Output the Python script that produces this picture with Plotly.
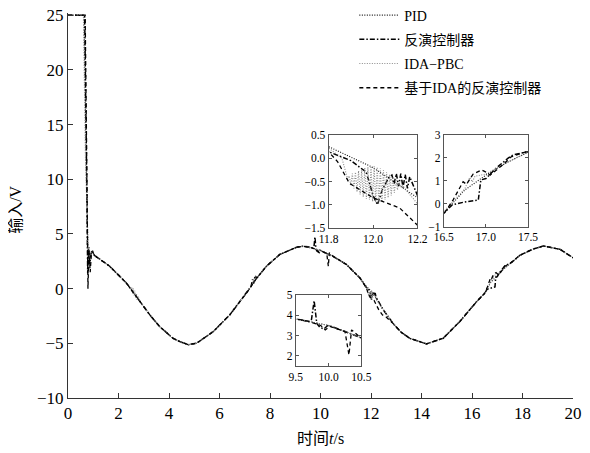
import plotly.graph_objects as go

# ---------------- data ----------------
t_base = [1.1, 1.65, 2.31, 2.71, 3.24, 3.63, 4.16, 4.43, 4.76, 5.09, 5.75, 6.41,
          7.07, 7.47, 7.86, 8.39, 9.05, 9.3, 9.5, 9.7, 10.0, 10.25, 10.5, 11.03,
          11.56, 11.8, 12.0, 12.2, 12.49, 12.88, 13.2, 13.54, 14.2, 14.86, 15.52,
          16.19, 16.5, 16.75, 17.0, 17.25, 17.5, 17.9, 18.4, 18.83, 19.49, 20.0]
u_base = [2.95, 2.05, 0.52, -0.7, -2.4, -3.47, -4.54, -4.85, -5.12, -5.0, -3.93, -2.39,
          -0.4, 0.95, 2.05, 3.13, 3.78, 3.88, 3.82, 3.7, 3.5, 3.2, 2.95, 2.2,
          0.98, 0.25, -0.2, -0.85, -1.95, -3.2, -4.0, -4.55, -5.05, -4.54, -3.0,
          -1.17, -0.4, 0.6, 1.25, 1.8, 2.25, 3.05, 3.6, 3.9, 3.59, 2.82]

# PID
pid_t0 = [0, 0.63, 0.71, 0.79, 0.84, 0.9, 0.97, 1.04]
pid_u0 = [25, 25, 13, 3.7, 2.9, 3.3, 3.4, 3.05]

# 反演控制器 (backstepping)
bs_t0 = [0, 0.66, 0.73, 0.78, 0.82, 0.86, 0.91, 0.97, 1.04]
bs_u0 = [25, 25, 12, 1.4, 3.8, 2.2, 3.2, 3.45, 3.05]
bs_t1 = [7.25, 7.31, 7.35, 7.41, 7.47]
bs_u1 = [0.2, 0.85, 0.45, 1.2, 0.95]
bs_t2 = [9.7, 9.74, 9.78, 9.82, 9.87, 9.93, 9.98]
bs_u2 = [3.69, 3.8, 4.72, 3.6, 3.4, 3.33, 3.48]
bs_t3 = [11.8, 11.9, 11.97, 12.0, 12.02, 12.04, 12.07, 12.085, 12.095, 12.105,
         12.115, 12.125, 12.135, 12.145, 12.155, 12.165, 12.2]
bs_u3 = [0.14, -0.05, -0.3, -0.8, -1.0, -0.7, -0.42, -0.36, -0.55, -0.33,
         -0.6, -0.33, -0.63, -0.35, -0.65, -0.4, -0.8]
bs_t4 = [16.5, 16.6, 16.75, 16.91, 16.94, 17.0, 17.12, 17.26, 17.32, 17.5]
bs_u4 = [-0.42, -0.05, 0.08, 0.16, 1.04, 1.1, 1.55, 1.98, 2.13, 2.27]

# IDA-PBC
ida_t0 = [0, 0.61, 0.69, 0.79, 0.87, 0.96, 1.04]
ida_u0 = [25, 25, 12, 3.9, 3.0, 3.3, 3.0]
ida_t1 = [2.5, 2.53, 2.56, 2.59, 2.62, 2.65, 2.68, 2.71, 2.74, 2.78, 2.83]
ida_u1 = [-0.06, 0.15, -0.45, 0.0, -0.65, -0.2, -0.85, -0.45, -1.1, -0.7, -1.1]
ida_t2 = [7.3, 7.34, 7.38, 7.42, 7.46]
ida_u2 = [0.4, 0.9, 0.6, 1.1, 0.9]
ida_t3 = [11.8, 11.86, 11.886, 11.893, 11.9, 11.907, 11.914, 11.921, 11.928, 11.935,
          11.942, 11.949, 11.956, 11.963, 11.97, 11.977, 11.984, 11.991, 11.998,
          12.005, 12.012, 12.019, 12.026, 12.033, 12.04, 12.047, 12.054, 12.061,
          12.068, 12.075, 12.082, 12.089, 12.096, 12.103, 12.11, 12.117, 12.124,
          12.13, 12.2]
ida_u3 = [0.22, 0.0, -0.45, -0.38, -0.58, -0.33, -0.65, -0.30, -0.72, -0.27,
          -0.78, -0.24, -0.83, -0.21, -0.87, -0.19, -0.90, -0.17, -0.93,
          -0.17, -0.95, -0.19, -0.97, -0.22, -0.94, -0.26, -0.90, -0.30,
          -0.85, -0.35, -0.80, -0.40, -0.74, -0.45, -0.68, -0.52, -0.62,
          -0.57, -0.98]
ida_t4 = [16.5, 16.75, 16.78, 16.81, 16.84, 16.87, 17.0]
ida_u4 = [-0.35, 0.65, 0.9, 1.15, 0.95, 1.2, 1.3]

# 基于IDA的反演控制器
ibs_t0 = [0, 0.68, 0.75, 0.79, 0.83, 0.88, 0.93, 0.99, 1.04]
ibs_u0 = [25, 25, 10, 0.0, 3.5, 1.5, 3.4, 3.3, 3.05]
ibs_t1 = [9.88, 9.95, 10.02]
ibs_u1 = [3.5, 3.28, 3.45]
ibs_t2 = [10.25, 10.28, 10.31, 10.35, 10.4, 10.45]
ibs_u2 = [3.2, 2.6, 2.05, 3.28, 3.15, 3.0]
ibs_t3 = [11.8, 11.84, 11.894, 12.0, 12.12, 12.17, 12.3, 12.45, 12.6]
ibs_u3 = [0.14, -0.07, -0.54, -0.85, -1.07, -1.32, -1.9, -2.4, -2.6]
ibs_t4 = [16.5, 16.61, 16.73, 16.77, 16.85, 16.95, 16.99, 17.05, 17.2, 17.3, 17.5]
ibs_u4 = [-0.45, 0.16, 0.96, 0.85, 1.3, 1.47, 1.4, 1.25, 1.7, 2.05, 2.3]

names = ["PID", "反演控制器", "IDA−PBC", "基于IDA的反演控制器"]


def merge(events):
    """Combine the shared curve with the locally read segments of one series."""
    pts = []
    for ts, us in events:
        pts += list(zip(ts, us))
    lo_hi = [(min(ts), max(ts)) for ts, _ in events]
    for t, u in zip(t_base, u_base):
        if not any(lo <= t <= hi for lo, hi in lo_hi):
            pts.append((t, u))
    pts.sort(key=lambda p: p[0])
    return [p[0] for p in pts], [p[1] for p in pts]


series = [
    merge([(pid_t0, pid_u0)]),
    merge([(bs_t0, bs_u0), (bs_t1, bs_u1), (bs_t2, bs_u2), (bs_t3, bs_u3), (bs_t4, bs_u4)]),
    merge([(ida_t0, ida_u0), (ida_t1, ida_u1), (ida_t2, ida_u2), (ida_t3, ida_u3), (ida_t4, ida_u4)]),
    merge([(ibs_t0, ibs_u0), (ibs_t1, ibs_u1), (ibs_t2, ibs_u2), (ibs_t3, ibs_u3), (ibs_t4, ibs_u4)]),
]

styles = [
    dict(color="#111111", width=1.1, dash="1px,1.5px"),
    dict(color="#000000", width=1.5, dash="5px,2px,1.5px,2px"),
    dict(color="#8a8a8a", width=1.1, dash="1px,1.5px"),
    dict(color="#000000", width=1.3, dash="4px,3px"),
]

FONT = "'Liberation Serif', 'DejaVu Serif', 'Noto Sans CJK SC', serif"

fig = go.Figure()
axes = [("x", "y"), ("x2", "y2"), ("x3", "y3"), ("x4", "y4")]
for ai, (xa, ya) in enumerate(axes):
    for si, (ts, us) in enumerate(series):
        fig.add_trace(go.Scatter(
            x=ts, y=us, mode="lines", name=names[si], xaxis=xa, yaxis=ya,
            line=styles[si], showlegend=(ai == 0), legendgroup=names[si],
            hoverinfo="skip"))

axis_common = dict(showline=True, linecolor="#333333", linewidth=1, ticks="inside",
                   ticklen=5, tickcolor="#333333", showgrid=False, zeroline=False,
                   ticklabeloverflow="allow",
                   tickfont=dict(family=FONT, size=17, color="#000"))
inset_common = dict(showline=True, linecolor="#555555", linewidth=1, mirror="ticks",
                    ticks="inside", ticklen=3, tickcolor="#555555", showgrid=False,
                    zeroline=False, ticklabeloverflow="allow",
                    tickfont=dict(family=FONT, size=11.5, color="#000"))

# the page body adds an 8 px offset, so the figure is 8 px smaller on each axis
fig.update_layout(
    width=582, height=445,
    margin=dict(l=60, r=17, t=5, b=55, autoexpand=False),
    paper_bgcolor="white", plot_bgcolor="rgba(0,0,0,0)",
    font=dict(family=FONT, color="#000"),
    xaxis=dict(axis_common, range=[0, 20], tickvals=list(range(0, 21, 2)), domain=[0, 1]),
    yaxis=dict(axis_common, range=[-10, 25.2], tickvals=list(range(-10, 26, 5)), domain=[0, 1]),
    xaxis2=dict(inset_common, range=[11.8, 12.2], tickvals=[11.8, 12.0, 12.2], tickformat=".1f",
                domain=[0.516, 0.692], anchor="y2"),
    yaxis2=dict(inset_common, range=[-1.5, 0.5], tickvals=[-1.5, -1.0, -0.5, 0.0, 0.5],
                tickformat=".1f", domain=[0.4416, 0.6831], anchor="x2"),
    xaxis3=dict(inset_common, range=[16.5, 17.5], tickvals=[16.5, 17.0, 17.5], tickformat=".1f",
                domain=[0.744, 0.911], anchor="y3"),
    yaxis3=dict(inset_common, range=[-1, 3], tickvals=[-1, 0, 1, 2, 3],
                domain=[0.445, 0.6831], anchor="x3"),
    xaxis4=dict(inset_common, range=[9.5, 10.5], tickvals=[9.5, 10.0, 10.5], tickformat=".1f",
                domain=[0.451, 0.581], anchor="y4"),
    yaxis4=dict(inset_common, range=[1.5, 5], tickvals=[2, 3, 4, 5],
                domain=[0.0831, 0.2675], anchor="x4"),
    legend=dict(x=0.567, y=1.035, xanchor="left", yanchor="top", bgcolor="rgba(0,0,0,0)",
                font=dict(family=FONT, size=14, color="#000"), itemwidth=40,
                tracegroupgap=3),
    annotations=[
        dict(text="输入/V", xref="paper", yref="paper", x=-0.1055, y=0.488, showarrow=False,
             textangle=-90, font=dict(family=FONT, size=16, color="#000"),
             xanchor="center", yanchor="middle"),
        dict(text="时间<i>t</i>/s", xref="paper", yref="paper", x=0.5, y=-0.104, showarrow=False,
             font=dict(family=FONT, size=16, color="#000"), xanchor="center", yanchor="middle"),
    ],
)

fig.write_html("out.html")
